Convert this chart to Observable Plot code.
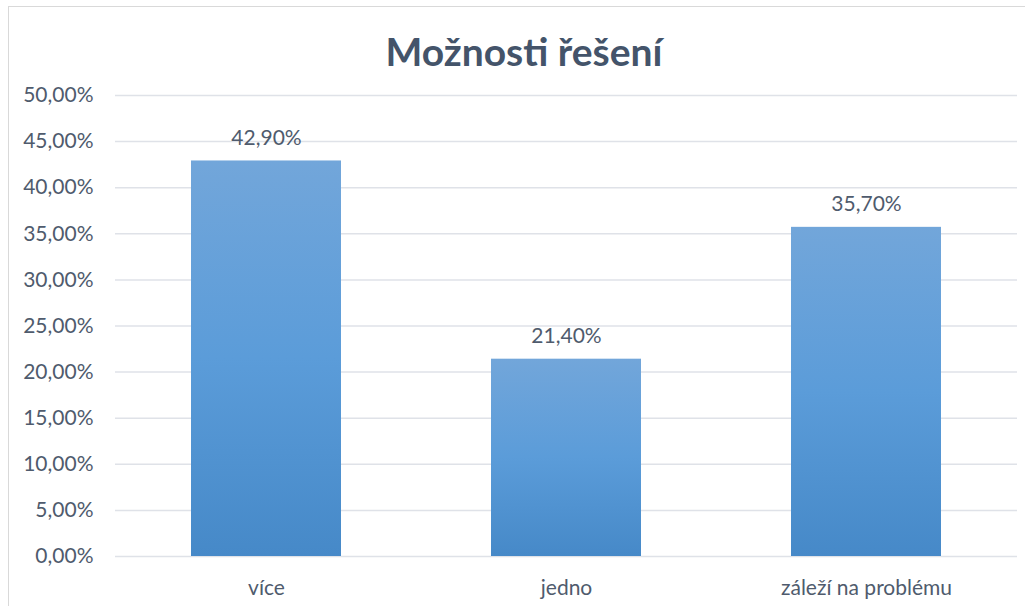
<!DOCTYPE html>
<html>
<head>
<meta charset="utf-8">
<script src="https://cdn.jsdelivr.net/npm/d3@7"></script>
<script src="https://cdn.jsdelivr.net/npm/@observablehq/plot@0.6"></script>
<style>
  html, body { margin: 0; padding: 0; background: #fff; }
  #wrap { position: relative; width: 1025px; height: 606px; overflow: hidden; }
  #border { position: absolute; left: 8px; top: 6px; width: 1030px; height: 620px; border: 1px solid #d9d9d9; box-sizing: border-box; }
  #title { position: absolute; left: 0; width: 1048px; top: 28px; text-align: center;
           font-family: Lato, sans-serif; font-weight: bold; font-size: 39px; color: #44546a; }
  #chart { position: absolute; left: 0; top: 0; }
</style>
</head>
<body>
<div id="wrap">
  <div id="border"></div>
  <div id="chart"></div>
  <div id="title">Možnosti řešení</div>
</div>
<script>
const categories = ["více", "jedno", "záleží na problému"];
const values = [0.429, 0.214, 0.357];
const yTicks = [0, 0.05, 0.10, 0.15, 0.20, 0.25, 0.30, 0.35, 0.40, 0.45, 0.50];

const data = categories.map((c, i) => ({category: c, value: values[i]}));
const fmt = v => (v * 100).toFixed(2).replace(".", ",") + "%";
const textColor = "#4f5b6d";

const chart = Plot.plot({
  width: 1025,
  height: 606,
  marginLeft: 115,
  marginRight: 8,
  marginTop: 95,
  marginBottom: 50,
  style: {fontFamily: "Lato, sans-serif", fontSize: "21px", color: textColor, background: "transparent"},
  x: {domain: categories, paddingInner: 0.5, paddingOuter: 0.25, label: null, tickSize: 0, tickPadding: 24},
  y: {domain: [0, 0.5], ticks: yTicks, tickFormat: fmt, label: null, tickSize: 0, tickPadding: 22},
  marks: [
    Plot.gridY(yTicks, {stroke: "#dfe2e8", strokeOpacity: 1, strokeWidth: 1.5}),
    Plot.barY(data, {x: "category", y: "value", fill: "url(#barGrad)"}),
    Plot.text(data, {x: "category", y: "value", text: d => fmt(d.value), dy: -23, fill: textColor, fontSize: 21})
  ]
});

const ns = "http://www.w3.org/2000/svg";
const defs = document.createElementNS(ns, "defs");
const grad = document.createElementNS(ns, "linearGradient");
grad.setAttribute("id", "barGrad");
grad.setAttribute("x1", "0"); grad.setAttribute("y1", "0");
grad.setAttribute("x2", "0"); grad.setAttribute("y2", "1");
[["0%", "#72a6da"], ["50%", "#5b9cd9"], ["100%", "#4689c8"]].forEach(([o, c]) => {
  const s = document.createElementNS(ns, "stop");
  s.setAttribute("offset", o); s.setAttribute("stop-color", c);
  grad.appendChild(s);
});
defs.appendChild(grad);
chart.insertBefore(defs, chart.firstChild);

document.getElementById("chart").appendChild(chart);
</script>
</body>
</html>
